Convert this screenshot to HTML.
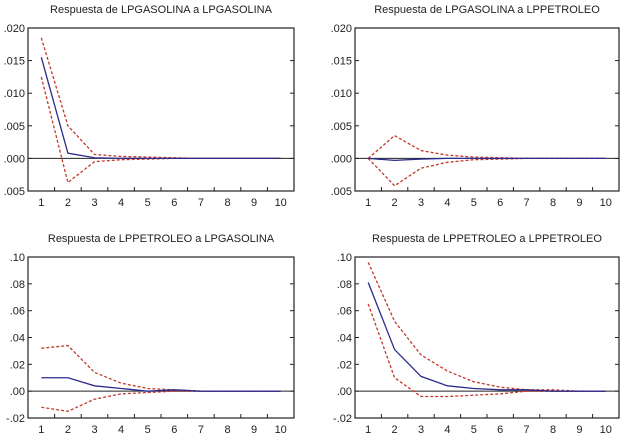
<!DOCTYPE html>
<html><head><meta charset="utf-8"><style>
body{margin:0;background:#fff;width:624px;height:440px;overflow:hidden}
svg text{font-family:"Liberation Sans",sans-serif;font-size:11px;fill:#222}
</style></head><body>
<svg id="c" width="624" height="440"></svg>
<script>
const periods=[1,2,3,4,5,6,7,8,9,10];
const tlMean=[0.0155,0.0008,0.0001,0,0,0,0,0,0,0];
const tlUp=[0.0185,0.005,0.0006,0.0003,0.0002,0.0001,0,0,0,0];
const tlLo=[0.0125,-0.0037,-0.0005,-0.0002,-0.0001,0,0,0,0,0];
const trMean=[0,-0.0003,-0.0001,0,0,0,0,0,0,0];
const trUp=[0,0.0035,0.0012,0.0005,0.0002,0.0001,0,0,0,0];
const trLo=[0,-0.0042,-0.0015,-0.0006,-0.0002,-0.0001,0,0,0,0];
const blMean=[0.01,0.01,0.004,0.002,0,0.001,0,0,0,0];
const blUp=[0.032,0.034,0.014,0.006,0.002,0.001,0,0,0,0];
const blLo=[-0.012,-0.015,-0.006,-0.002,-0.001,0,0,0,0,0];
const brMean=[0.081,0.031,0.011,0.004,0.002,0.001,0.001,0,0,0];
const brUp=[0.096,0.052,0.027,0.015,0.007,0.003,0.001,0.001,0,0];
const brLo=[0.065,0.01,-0.004,-0.004,-0.003,-0.002,0,0,0,0];
const topTicks=[0.020,0.015,0.010,0.005,0.000,-0.005];
const topTickLabels=[".020",".015",".010",".005",".000",".005"];
const botTicks=[0.10,0.08,0.06,0.04,0.02,0.00,-0.02];
const botTickLabels=[".10",".08",".06",".04",".02",".00","-.02"];
const NS="http://www.w3.org/2000/svg";
const svg=document.getElementById('c');
function mk(t,a,p){const e=document.createElementNS(NS,t);for(const k in a)e.setAttribute(k,a[k]);(p||svg).appendChild(e);return e;}
function panel(name,title,L,T,W,H,ymin,ymax,ticks,labels,mean,up,lo){
  const g=mk('g',{});
  
  
  const x=i=>L+(i-0.5)*W/10;
  const y=v=>T+H-(v-ymin)/(ymax-ymin)*H;
  const tt=mk('text',{x:L+W/2,y:T-15,'text-anchor':'middle'},g);tt.textContent=title;
  
  
  ticks.forEach((v,i)=>{
    mk('line',{x1:L,x2:L+4,y1:y(v),y2:y(v),stroke:'#222'},g);
    mk('line',{x1:L+W-4,x2:L+W,y1:y(v),y2:y(v),stroke:'#222'},g);
    const t=mk('text',{x:L-3,y:y(v)+4,'text-anchor':'end'},g);t.textContent=labels[i];
    
    
  });
  periods.forEach(p=>{
    const t=mk('text',{x:x(p),y:T+H+15,'text-anchor':'middle'},g);t.textContent=p;
    
    
  });
  for(let i=0;i<=10;i++){const xx=L+i*W/10;mk('line',{x1:xx,x2:xx,y1:T+H,y2:T+H-4,stroke:'#222'},g);}
  mk('line',{x1:L,x2:L+W,y1:y(0),y2:y(0),stroke:'#222','stroke-width':1},g);
  const pts=a=>a.map((v,i)=>x(periods[i])+','+y(v)).join(' ');
  const u=mk('polyline',{points:pts(up),fill:'none',stroke:'#c0392b','stroke-width':1.3,'stroke-dasharray':'3,2'},g);
  
  
  const l=mk('polyline',{points:pts(lo),fill:'none',stroke:'#c0392b','stroke-width':1.3,'stroke-dasharray':'3,2'},g);
  
  
  const m=mk('polyline',{points:pts(mean),fill:'none',stroke:'#2b2b8c','stroke-width':1.3},g);
  
  
  mk('rect',{x:L,y:T,width:W,height:H,fill:'none',stroke:'#222','stroke-width':1.2},g);
}
panel('panel-gasolina-gasolina','Respuesta de LPGASOLINA a LPGASOLINA',28,28,266,163,-0.005,0.020,topTicks,topTickLabels,tlMean,tlUp,tlLo);
panel('panel-gasolina-petroleo','Respuesta de LPGASOLINA a LPPETROLEO',355,28,264,163,-0.005,0.020,topTicks,topTickLabels,trMean,trUp,trLo);
panel('panel-petroleo-gasolina','Respuesta de LPPETROLEO a LPGASOLINA',28,257,266,161,-0.02,0.10,botTicks,botTickLabels,blMean,blUp,blLo);
panel('panel-petroleo-petroleo','Respuesta de LPPETROLEO a LPPETROLEO',355,257,264,161,-0.02,0.10,botTicks,botTickLabels,brMean,brUp,brLo);
</script>
</body></html>
